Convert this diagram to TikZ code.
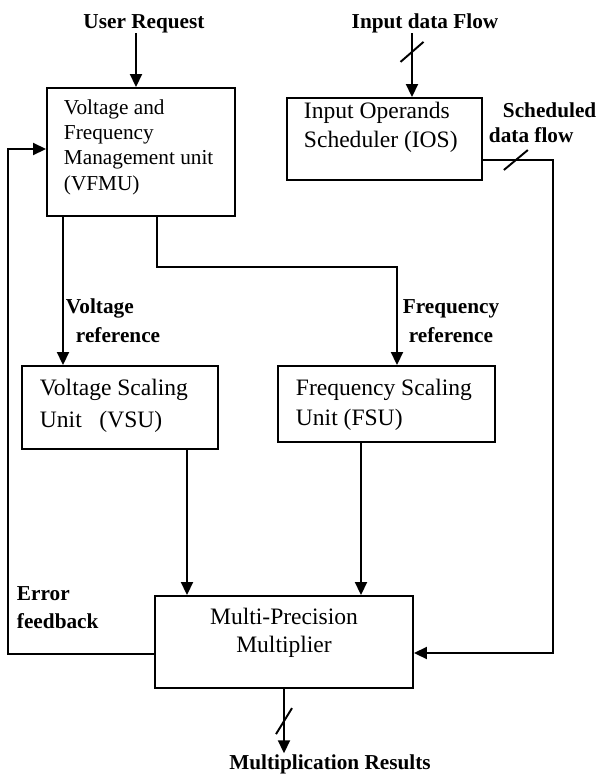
\documentclass[tikz,border=0pt]{standalone}
\usepackage{fontspec}
\setmainfont{Liberation Serif}
\usetikzlibrary{arrows.meta}

\begin{document}
\begin{tikzpicture}[>={Triangle[length=0.26cm,width=0.24cm]}, line width=1.1pt,
  blk/.style={draw, rectangle, inner sep=0pt},
  lbl/.style={inner sep=0pt, font=\fontsize{12.1}{16.5}\selectfont\bfseries},
  txt/.style={inner sep=0pt, align=left, font=\fontsize{13.4}{16.5}\selectfont}]
  \useasboundingbox (0,0) rectangle (11.92,-15.52);

  % blocks
  \node[blk, minimum width=3.76cm, minimum height=2.56cm] (vfmu) at (2.82,-3.04) {};
  \node[blk, minimum width=3.90cm, minimum height=1.64cm] (ios) at (7.69,-2.78) {};
  \node[blk, minimum width=3.92cm, minimum height=1.66cm] (vsu) at (2.40,-8.15) {};
  \node[blk, minimum width=4.34cm, minimum height=1.52cm] (fsu) at (7.73,-8.08) {};
  \node[blk, minimum width=5.16cm, minimum height=1.84cm] (mpm) at (5.68,-12.84) {};

  % block texts (base = last line)
  \node[txt, anchor=base west, font=\fontsize{12.1}{14.4}\selectfont] (vfmuTxt) at (1.26,-3.80)
    {Voltage and\\Frequency\\Management unit\\(VFMU)};
  \node[txt, anchor=base west] (iosTxt) at (6.06,-2.95) {Input Operands\\Scheduler (IOS)};
  \node[txt, anchor=base west, font=\fontsize{13.4}{18.2}\selectfont] (vsuTxt) at (0.78,-8.55)
    {Voltage Scaling\\Unit~~~(VSU)};
  \node[txt, anchor=base west, font=\fontsize{13.4}{17.1}\selectfont] (fsuTxt) at (5.90,-8.51)
    {Frequency Scaling\\Unit (FSU)};
  \node[txt, anchor=base, align=center, font=\fontsize{13.4}{15.9}\selectfont] (mpmTxt) at (5.68,-13.05)
    {Multi-Precision\\Multiplier};

  % labels
  \node[lbl, anchor=base] (userReq) at (2.88,-0.56) {User Request};
  \node[lbl, anchor=base] (inFlow) at (8.50,-0.56) {Input data Flow};
  \node[lbl, anchor=base west, align=left] (vref) at (1.30,-6.84) {Voltage\\\hspace*{0.2cm}reference};
  \node[lbl, anchor=base, align=center] (fref) at (9.02,-6.84) {Frequency\\reference};
  \node[lbl, anchor=base west, align=left, font=\fontsize{12.1}{14.2}\selectfont\bfseries] (schedLbl)
    at (9.76,-2.84) {\hspace*{0.28cm}Scheduled\\data flow};
  \node[lbl, anchor=base west, align=left, font=\fontsize{12.1}{15.9}\selectfont\bfseries] (errLbl)
    at (0.32,-12.56) {Error\\feedback};
  \node[lbl, anchor=base] (mulRes) at (6.60,-15.38) {Multiplication Results};

  % connectors
  \draw[->] ([xshift=-0.16cm]userReq.south) -- ([xshift=-0.10cm]vfmu.north);
  \draw[->] ([xshift=-0.26cm]inFlow.south) -- coordinate[pos=0.29] (inMark) ([xshift=0.55cm]ios.north);
  \draw (inMark) ++(-0.23,-0.2) -- ++(0.46,0.4);
  \draw[->] ([xshift=-1.56cm]vfmu.south) -- ([xshift=-1.56cm]vfmu.south |- vsu.north);
  \draw[->] ([xshift=0.32cm]vfmu.south) -- ++(0,-1.0) -| ([xshift=0.21cm]fsu.north);
  \draw[->] ([xshift=1.34cm]vsu.south) -- ([xshift=1.34cm]vsu.south |- mpm.north);
  \draw[->] ([xshift=-0.51cm]fsu.south) -- ([xshift=-0.51cm]fsu.south |- mpm.north);
  \draw[->] ([yshift=-0.42cm]ios.east) -- coordinate[pos=0.47] (schedMark) ++(1.4,0)
    |- ([yshift=-0.22cm]mpm.east);
  \draw (schedMark) ++(-0.24,-0.2) -- ++(0.48,0.4);
  \draw[->] ([yshift=-0.24cm]mpm.west) -- ++(-2.92,0) |- ([yshift=0.06cm]vfmu.west);
  \draw[->] (mpm.south) -- coordinate[pos=0.5] (outMark) (mpm.south |- mulRes.north);
  \draw (outMark) ++(-0.16,-0.26) -- ++(0.32,0.52);
\end{tikzpicture}
\end{document}
